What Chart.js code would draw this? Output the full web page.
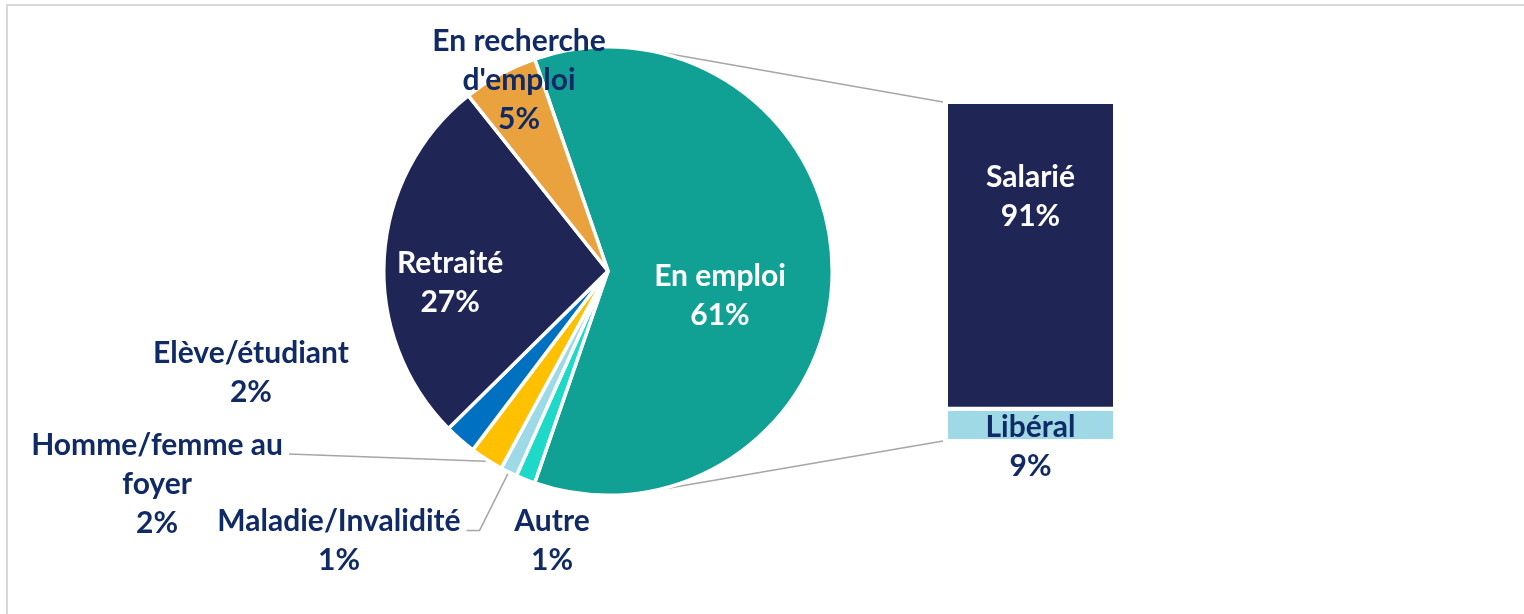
<!DOCTYPE html>
<html><head><meta charset="utf-8">
<script src="https://cdn.jsdelivr.net/npm/chart.js@4.4.1/dist/chart.umd.min.js"></script>
<style>
html,body{margin:0;padding:0;background:#fff;width:1524px;height:614px;overflow:hidden;}
#frame{position:absolute;left:6px;top:4px;width:1600px;height:700px;border-top:2px solid #d9d9d9;border-left:2px solid #d9d9d9;}
canvas{position:absolute;left:0;top:0;}
</style></head><body>
<div id="frame"></div>
<canvas id="bar" width="1524" height="614"></canvas>
<canvas id="pie" width="1524" height="614"></canvas>
<script>
// ---- data ----
const pieCategories = ['En emploi', 'Autre', 'Maladie/Invalidité', 'Homme/femme au\nfoyer', 'Elève/étudiant', 'Retraité', "En recherche\nd'emploi"];
const pieValues = [60.6, 1.4, 1.2, 2.4, 2.3, 26.7, 5.4];
const barCategories = ['Libéral', 'Salarié'];
const barValues = [9, 91];

// ---- styles ----
const pieColors = ['#11A194', '#1ED8C8', '#9DD9E6', '#FFC000', '#0070C0', '#1F2656', '#E9A23D'];
const barColors = ['#9ED9E5', '#1F2656'];
const TXT = '#102A66';
const FONT = 'bold 30px Lato';
const LINE_H = 39;
const LINE_COLOR = '#A6A6A6';
// label block centres relative to pie centre, in radii
const pieLabelLayout = [
  {fx: 0.50, fy: 0.112, color: '#fff'},
  {fx: -0.25, fy: 1.205},
  {fx: -1.201, fy: 1.205, leader: 'elbow'},
  {fx: -2.013, fy: 0.951, leader: 'straight'},
  {fx: -1.594, fy: 0.453},
  {fx: -0.705, fy: 0.051, color: '#fff'},
  {fx: -0.397, fy: -0.852}
];
const barLabelLayout = [
  {anchor: 'center', dy: 23, color: TXT},
  {anchor: 'top', dy: 92.5, color: '#fff'}
];

const total = pieValues.reduce((a, b) => a + b, 0);
const pct = v => Math.round(v) + '%';
const rotationDeg = 90 - (pieValues[0] / total) * 180;

function drawBlock(ctx, lines, cx, cy, color) {
  ctx.save();
  ctx.font = FONT;
  ctx.fillStyle = color;
  ctx.textAlign = 'center';
  ctx.textBaseline = 'middle';
  const y0 = cy - (lines.length - 1) * LINE_H / 2;
  lines.forEach((l, i) => ctx.fillText(l, cx, y0 + i * LINE_H));
  ctx.restore();
}

// ---- bar (second plot) ----
const barChart = new Chart(document.getElementById('bar'), {
  type: 'bar',
  data: {
    labels: [''],
    datasets: barCategories.map((c, i) => ({
      label: c,
      data: [barValues[i]],
      backgroundColor: barColors[i],
      borderColor: '#ffffff',
      borderWidth: i === 0 ? {top: 2.5, bottom: 0, left: 0, right: 0} : {top: 0, bottom: 2.5, left: 0, right: 0},
      borderSkipped: false,
      barPercentage: 1,
      categoryPercentage: 1
    }))
  },
  options: {
    responsive: false,
    animation: false,
    events: [],
    layout: {padding: {left: 948, right: 411, top: 104, bottom: 175}},
    scales: {
      x: {stacked: true, display: false},
      y: {stacked: true, display: false, min: 0, max: 100}
    },
    plugins: {legend: {display: false}, tooltip: {enabled: false}}
  },
  plugins: [{
    id: 'barLabels',
    afterDatasetsDraw(chart) {
      const ctx = chart.ctx;
      barCategories.forEach((c, i) => {
        const el = chart.getDatasetMeta(i).data[0];
        const lay = barLabelLayout[i];
        const top = Math.min(el.y, el.base), bot = Math.max(el.y, el.base);
        const cy = lay.anchor === 'top' ? top + lay.dy : (top + bot) / 2 + lay.dy;
        drawBlock(ctx, [c, pct(barValues[i])], el.x, cy, lay.color);
      });
    }
  }]
});

// ---- pie ----
const pieChart = new Chart(document.getElementById('pie'), {
  type: 'pie',
  data: {
    labels: pieCategories,
    datasets: [{
      data: pieValues,
      backgroundColor: pieColors,
      borderColor: '#ffffff',
      borderWidth: 3.5,
      hoverOffset: 0
    }]
  },
  options: {
    responsive: false,
    animation: false,
    events: [],
    rotation: rotationDeg,
    layout: {padding: {left: 382, right: 690, top: 45, bottom: 117}},
    plugins: {legend: {display: false}, tooltip: {enabled: false}}
  },
  plugins: [{
    id: 'connectors',
    beforeDatasetsDraw(chart) {
      const ctx = chart.ctx;
      const arc = chart.getDatasetMeta(0).data[0];
      const cx = arc.x, cy = arc.y, r = arc.outerRadius + 1;
      const sal = barChart.getDatasetMeta(1).data[0];
      const lib = barChart.getDatasetMeta(0).data[0];
      const left = sal.x - sal.width / 2 - 5;
      const topY = Math.min(sal.y, sal.base) - 2;
      const botY = Math.max(lib.y, lib.base) + 2;
      const a1 = -75.5 * Math.PI / 180, a2 = 75 * Math.PI / 180;
      ctx.save();
      ctx.strokeStyle = LINE_COLOR;
      ctx.lineWidth = 1.5;
      ctx.beginPath();
      ctx.moveTo(cx + r * Math.cos(a1), cy + r * Math.sin(a1));
      ctx.lineTo(left, topY);
      ctx.moveTo(cx + r * Math.cos(a2), cy + r * Math.sin(a2));
      ctx.lineTo(left, botY);
      ctx.stroke();
      ctx.restore();
    },
    afterDatasetsDraw(chart) {
      const ctx = chart.ctx;
      const meta = chart.getDatasetMeta(0);
      const R = 224;
      meta.data.forEach((arc, i) => {
        const lay = pieLabelLayout[i];
        const lines = pieCategories[i].split('\n').concat([pct(pieValues[i])]);
        const bx = arc.x + lay.fx * R, by = arc.y + lay.fy * R;
        if (lay.leader) {
          ctx.save();
          ctx.font = FONT;
          const w = ctx.measureText(lines[0]).width;
          const y0 = by - (lines.length - 1) * LINE_H / 2;
          const sx = bx + w / 2 + 6, sy = y0 + 9;
          const mid = (arc.startAngle + arc.endAngle) / 2;
          const ex = arc.x + (arc.outerRadius + 2) * Math.cos(mid);
          const ey = arc.y + (arc.outerRadius + 2) * Math.sin(mid);
          ctx.strokeStyle = LINE_COLOR;
          ctx.lineWidth = 1.5;
          ctx.beginPath();
          ctx.moveTo(sx, sy);
          if (lay.leader === 'elbow') ctx.lineTo(sx + 13, sy);
          ctx.lineTo(ex, ey);
          ctx.stroke();
          ctx.restore();
        }
        drawBlock(ctx, lines, bx, by, lay.color || TXT);
      });
    }
  }]
});
</script>
</body></html>
